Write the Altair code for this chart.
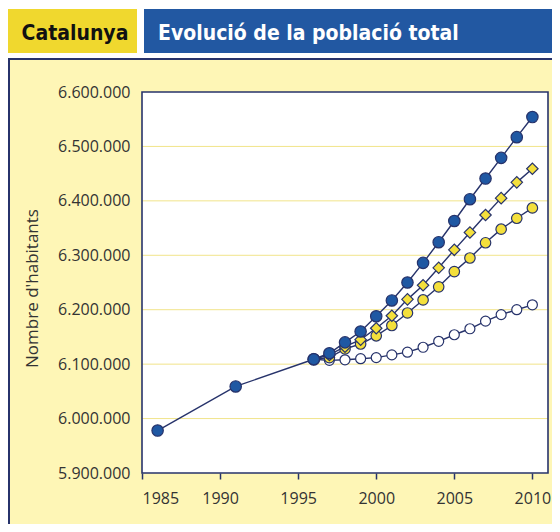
import altair as alt
import pandas as pd

# ---- data ----
hist_years = [1986, 1991, 1996]
hist_values = [5978000, 6059000, 6109000]

proj_years = list(range(1996, 2011))
high_values = [6109000, 6120000, 6140000, 6160000, 6188000, 6217000, 6250000, 6286000,
               6324000, 6363000, 6403000, 6441000, 6479000, 6517000, 6554000]
midhigh_values = [6109000, 6117000, 6132000, 6145000, 6166000, 6189000, 6219000, 6245000,
                  6277000, 6310000, 6342000, 6374000, 6405000, 6434000, 6459000]
mid_values = [6109000, 6112000, 6128000, 6137000, 6152000, 6171000, 6194000, 6218000,
              6242000, 6270000, 6295000, 6323000, 6348000, 6368000, 6387000]
low_values = [6109000, 6107000, 6108000, 6110000, 6112000, 6117000, 6122000, 6131000,
              6142000, 6154000, 6165000, 6179000, 6191000, 6200000, 6209000]

y_ticks = [5900000, 6000000, 6100000, 6200000, 6300000, 6400000, 6500000, 6600000]
x_ticks = [1985, 1990, 1995, 2000, 2005, 2010]

title_left = "Catalunya"
title_right = "Evolució de la població total"
y_title = "Nombre d'habitants"

# ---- styling ----
NAVY = "#27336B"
BLUE = "#1F58A3"
YELLOW = "#F4E03C"
HEAD_YELLOW = "#F0D82E"
HEAD_BLUE = "#2258A2"
PANEL = "#FEF6B6"
GRID = "#F1E48A"
PL, PT, PR, PB = 134, 84, 4, 51
W, H = 406, 381

xs = alt.Scale(domain=[1985, 2011], nice=False, zero=False)
ys = alt.Scale(domain=[5900000, 6600000], nice=False, zero=False)

one = alt.Data(values=[{"k": 0}])


def deco_rect(x, x2, y, y2, fill, stroke=None, sw=0):
    kw = dict(fill=fill)
    if stroke:
        kw.update(stroke=stroke, strokeWidth=sw)
    else:
        kw.update(strokeWidth=0)
    return alt.Chart(one).mark_rect(**kw).encode(
        x=alt.value(x), x2=alt.value(x2), y=alt.value(y), y2=alt.value(y2))


panel = deco_rect(1 - PL, W + 40, -33, H + 100, PANEL, NAVY, 2)
head_y = deco_rect(-PL - 1, -PL + 129, -83, -39, HEAD_YELLOW)
head_b = deco_rect(-PL + 136, W + 40, -83, -39, HEAD_BLUE)
plot_bg = deco_rect(0, W, 0, H, "white")
frame = alt.Chart(one).mark_rect(fillOpacity=0, stroke=NAVY, strokeWidth=1.6).encode(
    x=alt.value(0), x2=alt.value(W), y=alt.value(0), y2=alt.value(H))

HFONT = "Liberation Sans Narrow, Arial Narrow, DejaVu Sans Condensed, sans-serif"
t1 = alt.Chart(one).mark_text(text=title_left, font=HFONT, fontSize=21, fontWeight="bold",
                              color="#111111", align="center", baseline="alphabetic").encode(
    x=alt.value(-PL + 67), y=alt.value(-52))
t2 = alt.Chart(one).mark_text(text=title_right, font=HFONT, fontSize=21, fontWeight="bold",
                              color="white", align="left", baseline="alphabetic").encode(
    x=alt.value(-PL + 150), y=alt.value(-52))

axis_x = alt.Axis(values=x_ticks, format="d", grid=False, domain=False, ticks=True,
                  tickColor=NAVY, tickSize=6, tickWidth=1.5, labelPadding=11,
                  labelFont="Open Sans", labelFontSize=16, labelColor="#333333",
                  title=None, zindex=1)
axis_y = alt.Axis(values=y_ticks, grid=False, domain=False, ticks=False, labelPadding=12,
                  labelExpr="replace(replace(format(datum.value, ','), ',', '.'), ',', '.')",
                  labelFont="Open Sans", labelFontSize=16, labelColor="#333333",
                  title=y_title, titleFont="Open Sans", titleFontSize=17,
                  titleFontWeight="normal", titleColor="#333333", titleAngle=270,
                  titleAlign="center", titleBaseline="middle", titleX=-110, titleY=196,
                  zindex=1)

grid_df = pd.DataFrame({"v": y_ticks[1:-1]})
grid = alt.Chart(grid_df).mark_rule(color=GRID, strokeWidth=1).encode(
    y=alt.Y("v:Q", scale=ys, axis=axis_y))


def series(years, values, shape, fill, size):
    df = pd.DataFrame({"year": years, "value": values})
    base = alt.Chart(df).encode(
        x=alt.X("year:Q", scale=xs, axis=axis_x),
        y=alt.Y("value:Q", scale=ys, axis=axis_y))
    line = base.mark_line(color=NAVY, strokeWidth=1.4)
    pts = base.mark_point(shape=shape, filled=True, fill=fill, stroke=NAVY,
                          strokeWidth=1.2, size=size, opacity=1)
    return line + pts


low = series(proj_years, low_values, "circle", "white", 100)
mid = series(proj_years, mid_values, "circle", YELLOW, 110)
midhigh = series(proj_years, midhigh_values, "diamond", YELLOW, 130)
high = series(proj_years, high_values, "circle", BLUE, 130)
hist = series(hist_years, hist_values, "circle", BLUE, 130)

chart = alt.layer(
    panel, head_y, head_b, t1, t2, plot_bg, grid,
    low, mid, midhigh, high, hist, frame
).properties(
    width=W, height=H,
    autosize=alt.AutoSizeParams(type="none"),
    padding={"left": PL, "top": PT, "right": PR, "bottom": PB},
).configure_view(stroke=None).configure(background="white")

chart.save("out.html", embed_options={"renderer": "svg", "actions": False})
